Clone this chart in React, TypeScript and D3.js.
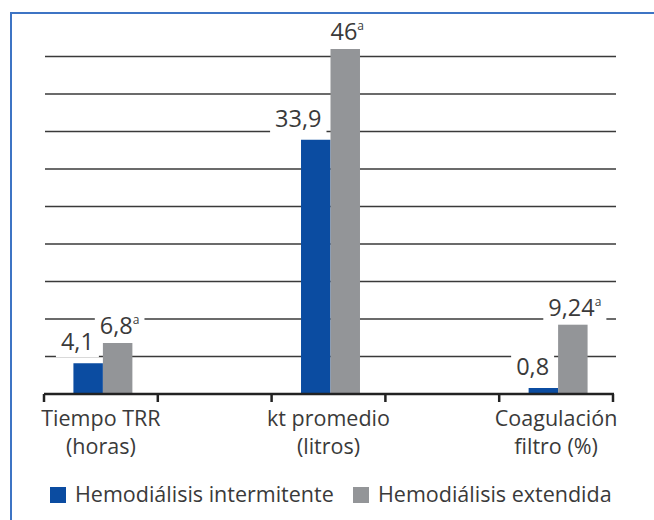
import React, { useEffect, useRef } from 'react';
import * as d3 from 'd3';

// categories: blanks are the empty slots between the three groups
const categories = [['Tiempo TRR', '(horas)'], [], ['kt promedio', '(litros)'], [], ['Coagulación', 'filtro (%)']];
const seriesNames = ['Hemodiálisis intermitente', 'Hemodiálisis extendida'];
const intermitente = [4.1, 33.9, 0.8];
const extendida = [6.8, 46, 9.24];
const extendidaMarks = ['a', 'a', 'a'];
const yTicks = [5, 10, 15, 20, 25, 30, 35, 40, 45];

const colors = ['#0b4ca1', '#939598'];
const textColor = '#3a3a3a';
const font = '"Open Sans", "DejaVu Sans", sans-serif';

export default function App() {
    const ref = useRef<SVGSVGElement | null>(null);

    useEffect(() => {
        const svg = d3.select(ref.current);
        svg.selectAll('*').remove();
        const width = 654, height = 520;
        const plot = { left: 44, right: 613, top: 19, bottom: 394 };

        svg.attr('viewBox', `0 0 ${width} ${height}`).style('font-family', font);

        const x = d3.scaleBand<number>().domain(d3.range(categories.length)).range([plot.left, plot.right]).padding(0);
        const inner = d3.scaleBand<number>().domain([0, 1]).range([2, x.bandwidth() + 2]).paddingInner(0).paddingOuter(0.93);
        const y = d3.scaleLinear().domain([0, 50]).range([plot.bottom, plot.top]);

        // gridlines
        svg.append('g').selectAll('line').data(yTicks).join('line')
            .attr('x1', plot.left + 1).attr('x2', 616)
            .attr('y1', d => y(d)).attr('y2', d => y(d))
            .attr('stroke', '#3a3a3a')
            .attr('stroke-width', 1.4);

        const slots = [0, 2, 4];
        const groups = [intermitente, extendida];

        const bars = svg.append('g');
        groups.forEach((vals, s) => {
            bars.selectAll(`rect.s${s}`).data(vals).join('rect')
                .attr('class', `s${s}`)
                .attr('x', (d, i) => (x(slots[i]) as number) + (inner(s) as number))
                .attr('y', d => y(d))
                .attr('width', inner.bandwidth())
                .attr('height', d => plot.bottom - y(d))
                .attr('fill', colors[s]);
        });

        // value labels with white backing that breaks the gridlines
        const fmt = (v: number) => String(v).replace('.', ',');
        const labels = svg.append('g');
        groups.forEach((vals, s) => {
            vals.forEach((v, i) => {
                const bx = (x(slots[i]) as number) + (inner(s) as number);
                const g = labels.append('g');
                const t = g.append('text')
                    .attr('fill', textColor)
                    .attr('font-size', 23.5)
                    .attr('y', y(v) - (s === 0 ? 13 : 9));
                if (s === 0) {
                    t.attr('x', bx + inner.bandwidth() - 9).attr('text-anchor', 'end').text(fmt(v));
                } else {
                    t.attr('x', bx + inner.bandwidth() / 2 + 2).attr('text-anchor', 'middle');
                    t.append('tspan').text(fmt(v));
                    t.append('tspan').attr('font-size', 12).attr('dy', -10).text(extendidaMarks[i]);
                }
                const bb = (t.node() as SVGTextElement).getBBox();
                g.insert('rect', 'text')
                    .attr('x', bb.x - 5).attr('y', bb.y)
                    .attr('width', bb.width + 10).attr('height', bb.height)
                    .attr('fill', '#fff');
            });
        });

        // x axis
        const axis = svg.append('g');
        axis.append('line')
            .attr('x1', plot.left).attr('x2', plot.right + 1)
            .attr('y1', plot.bottom).attr('y2', plot.bottom)
            .attr('stroke', '#222').attr('stroke-width', 2.5);
        const bounds = [...x.domain().map(d => x(d) as number), plot.right];
        axis.selectAll('line.tick').data(bounds).join('line')
            .attr('class', 'tick')
            .attr('x1', d => d).attr('x2', d => d)
            .attr('y1', plot.bottom).attr('y2', plot.bottom + 8)
            .attr('stroke', '#222').attr('stroke-width', 2.5);
        categories.forEach((lines, i) => {
            if (!lines.length) return;
            const t = axis.append('text')
                .attr('text-anchor', 'middle')
                .attr('fill', textColor)
                .attr('font-size', 21.5);
            lines.forEach((ln, k) => {
                t.append('tspan')
                    .attr('x', (x(i) as number) + x.bandwidth() / 2)
                    .attr('y', 426 + k * 28)
                    .text(ln);
            });
        });

        // legend
        const legendX = [50, 353];
        const legend = svg.append('g');
        seriesNames.forEach((name, s) => {
            legend.append('rect')
                .attr('x', legendX[s]).attr('y', 487)
                .attr('width', 16).attr('height', 16)
                .attr('fill', colors[s]);
            legend.append('text')
                .attr('x', legendX[s] + 25).attr('y', 502)
                .attr('fill', textColor)
                .attr('font-size', 21.5)
                .text(name);
        });

        // frame (drawn last so label backings never cover it)
        svg.append('path')
            .attr('d', `M11,${height} V13 H${width}`)
            .attr('fill', 'none')
            .attr('stroke', '#3d74c4')
            .attr('stroke-width', 2);
    }, []);

    return <svg ref={ref} width={654} height={520} style={{ position: 'absolute', left: 0, top: 0, background: '#fff' }} />;
}
